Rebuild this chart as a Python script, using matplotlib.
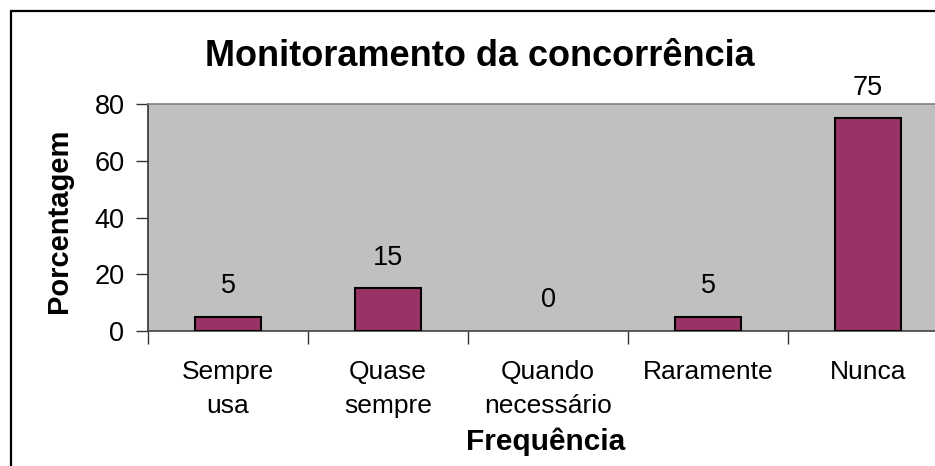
import matplotlib
matplotlib.use("Agg")
import matplotlib.pyplot as plt
from matplotlib.patches import Rectangle

plt.rcParams['font.family'] = ['Liberation Sans', 'DejaVu Sans']

categories = ['Sempre\nusa', 'Quase\nsempre', 'Quando\nnecessário', 'Raramente', 'Nunca']
values = [5, 15, 0, 5, 75]
y_ticks = [0, 20, 40, 60, 80]

fig = plt.figure(figsize=(9.35, 4.66), dpi=100)

# outer chart frame (runs past the right and bottom edges)
fig.patches.append(Rectangle((11 / 935, -0.2), 1.2, 1.2 - 11 / 466,
                             transform=fig.transFigure, fill=False,
                             edgecolor='black', linewidth=1.6))

ax = fig.add_axes([148 / 935, 135 / 466, 800 / 935, 227 / 466])
ax.set_facecolor('#C0C0C0')

pos = list(range(len(categories)))
# a zero-height bar leaves no outline
edge_widths = [1.5 if v else 0 for v in values]
ax.bar(pos, values, width=0.41, color='#993366', edgecolor='black',
       linewidth=edge_widths, zorder=3)

for x, v in zip(pos, values):
    ax.annotate(str(v), (x, v), xytext=(0, 17), textcoords='offset points',
                ha='center', va='baseline', fontsize=19.5, annotation_clip=False)

ax.set_xlim(-0.5, len(categories) - 0.5)
ax.set_ylim(0, 80)
ax.set_yticks(y_ticks)
ax.set_yticklabels([str(t) for t in y_ticks], fontsize=19.5)

# boundary ticks without labels, category names centred below each bar
ax.set_xticks([p - 0.5 for p in pos] + [len(pos) - 0.5])
ax.set_xticklabels([])
ax.set_xticks(pos, minor=True)
ax.set_xticklabels(categories, minor=True, fontsize=19, linespacing=1.5)
ax.tick_params(axis='x', which='minor', length=0, pad=21)
ax.tick_params(axis='x', which='major', length=9, width=1, color='#333333', direction='out')
ax.tick_params(axis='y', length=9, width=1, color='#333333', direction='out', pad=8)

ax.spines['right'].set_visible(False)
ax.spines['top'].set_color('#808080')
ax.spines['top'].set_linewidth(1.2)
ax.spines['left'].set_color('#333333')
ax.spines['left'].set_linewidth(1.2)
ax.spines['bottom'].set_color('#444444')
ax.spines['bottom'].set_linewidth(1.2)

fig.text(480 / 935, 1 - 66 / 466, 'Monitoramento da concorrência', ha='center', va='baseline',
         fontsize=26, fontweight='bold')
fig.text(546 / 935, 1 - 450 / 466, 'Frequência', ha='center', va='baseline',
         fontsize=21.5, fontweight='bold')
fig.text(59 / 935, 1 - 221 / 466, 'Porcentagem', ha='center', va='center',
         fontsize=21, fontweight='bold', rotation=90)

fig.savefig('out.png', dpi=100)
